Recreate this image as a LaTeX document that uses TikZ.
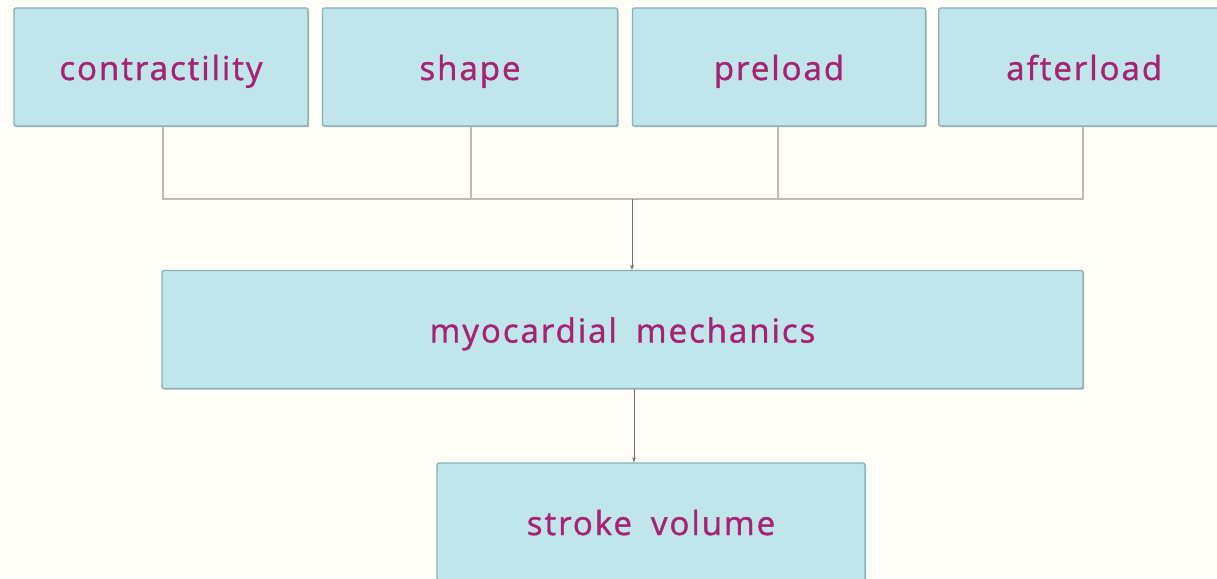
\documentclass[tikz,border=0pt]{standalone}
\usepackage{fontspec}
\setmainfont{Open Sans}[WordSpace=1.8, LetterSpace=6, FakeBold=1.2]
\usetikzlibrary{arrows.meta,shadows}
\definecolor{bg}{HTML}{FEFDF8}
\definecolor{boxfill}{HTML}{C0E6EC}
\definecolor{boxline}{HTML}{8AAFB4}
\definecolor{txt}{HTML}{A82272}
\definecolor{conn}{HTML}{BDBBB3}
\definecolor{arr}{HTML}{707070}
\definecolor{shade}{HTML}{7E9A9E}
\tikzset{
  box/.style={draw=boxline, line width=1.4pt, fill=boxfill, rounded corners=2pt,
    inner sep=0pt, text=txt,
    font=\fontsize{33}{36}\selectfont,
    text height=30pt, text depth=4pt, minimum height=118pt,
    drop shadow={shadow xshift=1.2pt, shadow yshift=-1.2pt, fill=shade, opacity=0.7}},
  link/.style={draw=conn, line width=1.4pt},
  arrowline/.style={draw=arr, line width=0.8pt, -{Stealth[length=5pt,width=4pt]}}
}
\begin{document}
\begin{tikzpicture}[x=1pt,y=-1pt]
\fill[bg] (0,0) rectangle (1217,578);
\useasboundingbox (0,0) rectangle (1217,578);
\node[box, minimum width=294pt] (con) at (161,67) {contractility};
\node[box, minimum width=295pt] (sha) at (470,67) {shape};
\node[box, minimum width=293pt] (pre) at (779,67) {preload};
\node[box, minimum width=300pt, anchor=west] (aft) at (938,67) {\hspace*{-9pt}afterload};
\node[box, minimum width=921pt] (myo) at (622.5,329.5) {myocardial mechanics};
\node[box, minimum width=428pt] (str) at (651,522) {stroke volume};
\coordinate (j1) at (163,199);
\coordinate (j2) at (471,199);
\coordinate (j3) at (778,199);
\coordinate (j4) at (1083,199);
\coordinate (jm) at (632,199);
\draw[link] (con.south -| j1) -- (j1) -- (j4) -- (aft.south -| j4);
\draw[link] (sha.south -| j2) -- (j2);
\draw[link] (pre.south -| j3) -- (j3);
\draw[arrowline] (jm) -- (myo.north -| jm);
\draw[arrowline] (myo.south -| 634,0) -- (str.north -| 634,0);
\end{tikzpicture}
\end{document}
